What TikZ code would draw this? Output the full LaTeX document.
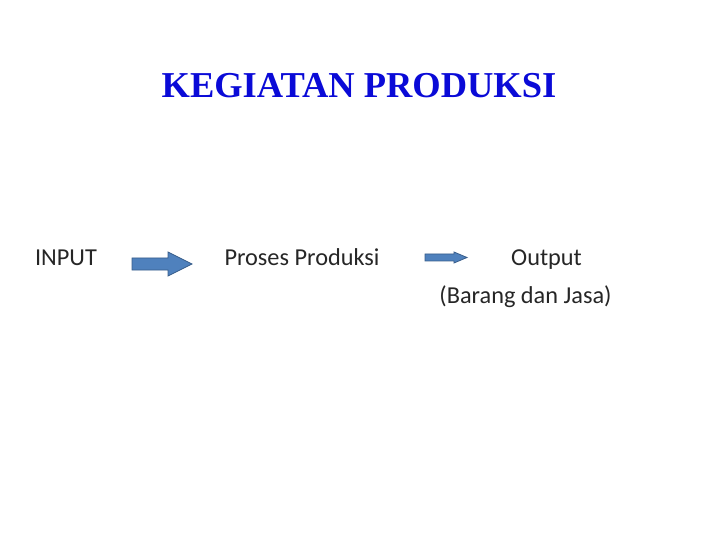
\documentclass[tikz,border=0pt]{standalone}
\usepackage{fontspec}
\setmainfont{Carlito}
\newfontfamily\titlefont{Liberation Serif}
\usepackage{tikz}
\usetikzlibrary{positioning}
\definecolor{arrowfill}{RGB}{79,129,189}
\definecolor{arrowline}{RGB}{56,93,138}
\definecolor{titleblue}{RGB}{10,10,215}
\definecolor{textgray}{RGB}{38,38,38}

\begin{document}
\begin{tikzpicture}[x=1bp,y=-1bp,
	lbl/.style={anchor=base,inner sep=0pt,font=\fontsize{24.4}{29}\selectfont,text=textgray},
	blockarrow/.style={fill=arrowfill,draw=arrowline,line width=0.8bp,line join=miter}]
	\useasboundingbox (0,0) rectangle (720,540);
	\node[anchor=base,inner sep=0pt,text=titleblue,font=\titlefont\bfseries\fontsize{36.6}{44}\selectfont] (t) at (359,98) {KEGIATAN PRODUKSI};
	\node[lbl] (a) at (66,266) {INPUT};
	\node[lbl] (b) at (302,266) {Proses Produksi};
	\node[lbl] (c) at (546.5,266) {Output};
	\node[lbl] (d) at (525.5,303) {(Barang dan Jasa)};
	% big arrow
	\draw[blockarrow] (132,258) -- (168,258) -- (168,252) -- (192,264) -- (168,276) -- (168,270) -- (132,270) -- cycle;
	% small arrow
	\draw[blockarrow] (425,254) -- (454,254) -- (454,252) -- (467,257.5) -- (454,263) -- (454,261) -- (425,261) -- cycle;
\end{tikzpicture}
\end{document}
